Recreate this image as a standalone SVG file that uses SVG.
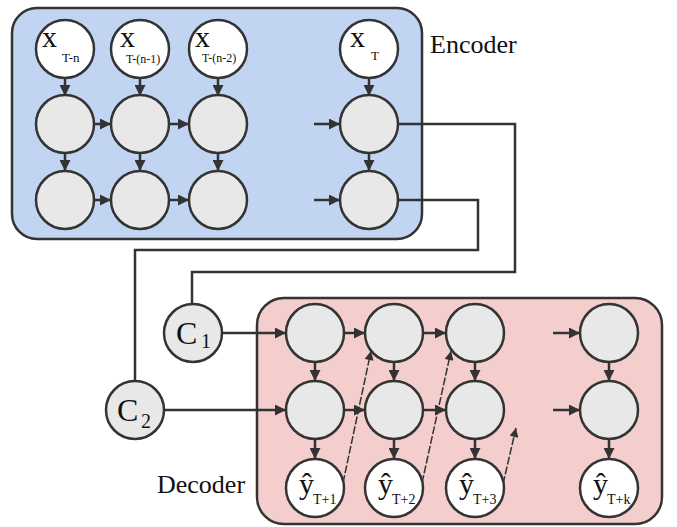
<svg xmlns="http://www.w3.org/2000/svg" width="677" height="527" viewBox="0 0 677 527">
<defs>
<marker id="ah" viewBox="0 0 10 10" refX="10" refY="5" markerWidth="11" markerHeight="11" markerUnits="userSpaceOnUse" orient="auto">
<path d="M0,0 L10,5 L0,10 z" fill="#333"/>
</marker>
<marker id="ahs" viewBox="0 0 10 10" refX="10" refY="5" markerWidth="10" markerHeight="9" markerUnits="userSpaceOnUse" orient="auto">
<path d="M0,0 L10,5 L0,10 z" fill="#333"/>
</marker>
</defs>
<style>
.box{stroke:#333;stroke-width:2.5}
.n{fill:#e8e8e8;stroke:#333;stroke-width:2.5}
.w{fill:#fff;stroke:#333;stroke-width:2.5}
.e{stroke:#333;stroke-width:2.5;fill:none}
.a{stroke:#333;stroke-width:2.5;fill:none;marker-end:url(#ah)}
.d{stroke:#333;stroke-width:1.5;fill:none;stroke-dasharray:8 2;marker-end:url(#ahs)}
text{fill:#111}
.big{font-size:30px}
.lbl{font-size:26px}
.s13{font-size:13px}
.s12{font-size:12px}
.s14{font-size:14px}
.s20{font-size:20px}
</style>
<g font-family="'Liberation Serif', 'Times New Roman', serif">
<g id="encoder">
<rect class="box" x="12" y="8" width="410" height="231" rx="25" fill="#c1d5f2"/>
<text class="lbl" x="430" y="53">Encoder</text>
</g>
<g id="decoder">
<rect class="box" x="257" y="298" width="405" height="226" rx="27" fill="#f4cdcd"/>
<text class="lbl" x="157" y="493">Decoder</text>
</g>
<g id="connectors">
<path class="e" d="M398,124 H515 V272 H192 V304"/>
<path class="e" d="M398,200 H478 V250 H135 V381"/>
<path class="a" d="M223,333 H286"/>
<path class="a" d="M164,410 H286"/>
<path class="a" d="M65,78 V96"/>
<path class="a" d="M140,78 V96"/>
<path class="a" d="M218,78 V96"/>
<path class="a" d="M369,78 V96"/>
<path class="a" d="M65,153 V171"/>
<path class="a" d="M140,153 V171"/>
<path class="a" d="M218,153 V171"/>
<path class="a" d="M369,153 V171"/>
<path class="a" d="M94,124 H111"/>
<path class="a" d="M169,124 H189"/>
<path class="a" d="M94,200 H111"/>
<path class="a" d="M169,200 H189"/>
<path class="a" d="M314,124 H340"/>
<path class="a" d="M314,200 H340"/>
<path class="a" d="M344,333 H365"/>
<path class="a" d="M423,333 H446"/>
<path class="a" d="M553,333 H580"/>
<path class="a" d="M344,410 H365"/>
<path class="a" d="M423,410 H446"/>
<path class="a" d="M553,410 H580"/>
<path class="a" d="M315,362 V381"/>
<path class="a" d="M394,362 V381"/>
<path class="a" d="M475,362 V381"/>
<path class="a" d="M609,362 V381"/>
<path class="a" d="M315,439 V459"/>
<path class="a" d="M394,439 V459"/>
<path class="a" d="M475,439 V459"/>
<path class="a" d="M609,439 V459"/>
<path class="d" d="M343,483 L371,351"/>
<path class="d" d="M422,483 L451,351"/>
<path class="d" d="M503,484 L516,428"/>
</g>
<g id="x_tn"><circle class="w" cx="65" cy="49" r="29"/><text class="big" x="42" y="47">x</text><text class="s13" x="62" y="62">T-n</text></g>
<g id="x_tn1"><circle class="w" cx="140" cy="49" r="29"/><text class="big" x="120" y="47">x</text><text class="s12" x="126" y="63">T-(n-1)</text></g>
<g id="x_tn2"><circle class="w" cx="218" cy="49" r="29"/><text class="big" x="195" y="47">x</text><text class="s12" x="202" y="62">T-(n-2)</text></g>
<g id="x_t"><circle class="w" cx="369" cy="49" r="29"/><text class="big" x="350" y="47">x</text><text class="s13" x="371" y="60">T</text></g>
<g id="e21"><circle class="n" cx="65" cy="124" r="29"/></g>
<g id="e22"><circle class="n" cx="140" cy="124" r="29"/></g>
<g id="e23"><circle class="n" cx="218" cy="124" r="29"/></g>
<g id="e24"><circle class="n" cx="369" cy="124" r="29"/></g>
<g id="e31"><circle class="n" cx="65" cy="200" r="29"/></g>
<g id="e32"><circle class="n" cx="140" cy="200" r="29"/></g>
<g id="e33"><circle class="n" cx="218" cy="200" r="29"/></g>
<g id="e34"><circle class="n" cx="369" cy="200" r="29"/></g>
<g id="c1"><circle class="n" cx="193" cy="333" r="29"/><text x="176" y="344" style="font-size:32px">C</text><text class="s20" x="201" y="348">1</text></g>
<g id="c2"><circle class="n" cx="135" cy="410" r="29"/><text x="117" y="421" style="font-size:32px">C</text><text class="s20" x="141" y="428">2</text></g>
<g id="d11"><circle class="n" cx="315" cy="333" r="29"/></g>
<g id="d12"><circle class="n" cx="394" cy="333" r="29"/></g>
<g id="d13"><circle class="n" cx="475" cy="333" r="29"/></g>
<g id="d14"><circle class="n" cx="609" cy="333" r="29"/></g>
<g id="d21"><circle class="n" cx="315" cy="410" r="29"/></g>
<g id="d22"><circle class="n" cx="394" cy="410" r="29"/></g>
<g id="d23"><circle class="n" cx="475" cy="410" r="29"/></g>
<g id="d24"><circle class="n" cx="609" cy="410" r="29"/></g>
<g id="y1"><circle class="w" cx="315" cy="488" r="29"/><text><tspan class="big" x="299" y="494">ŷ</tspan><tspan class="s14" x="313" y="504">T+1</tspan></text></g>
<g id="y2"><circle class="w" cx="394" cy="488" r="29"/><text><tspan class="big" x="378" y="494">ŷ</tspan><tspan class="s14" x="392" y="504">T+2</tspan></text></g>
<g id="y3"><circle class="w" cx="475" cy="488" r="29"/><text><tspan class="big" x="459" y="494">ŷ</tspan><tspan class="s14" x="473" y="504">T+3</tspan></text></g>
<g id="yk"><circle class="w" cx="609" cy="488" r="29"/><text><tspan class="big" x="593" y="494">ŷ</tspan><tspan class="s14" x="607" y="504">T+k</tspan></text></g>
</g>
</svg>
